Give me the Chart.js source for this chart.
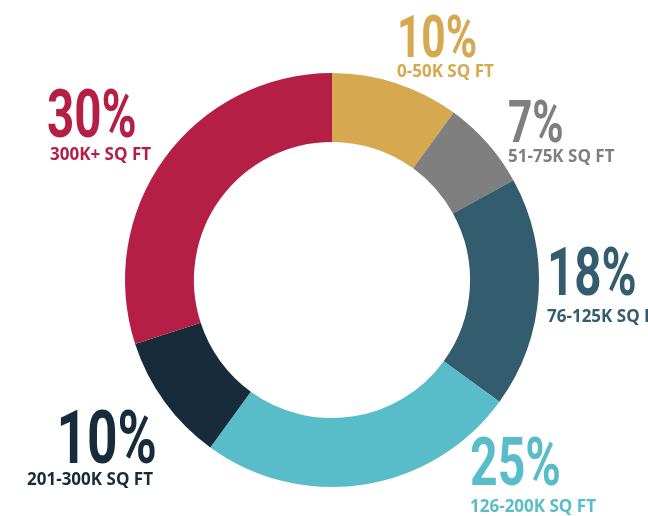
<!DOCTYPE html>
<html>
<head>
<meta charset="utf-8">
<script src="https://cdn.jsdelivr.net/npm/chart.js@4.4.1/dist/chart.umd.min.js"></script>
<style>
  html, body { margin: 0; padding: 0; background: #fff; }
  #wrap { width: 648px; height: 516px; }
</style>
</head>
<body>
<div id="wrap"><canvas id="donut"></canvas></div>
<script>
const categories = ['0-50K SQ FT', '51-75K SQ FT', '76-125K SQ FT', '126-200K SQ FT', '201-300K SQ FT', '300K+ SQ FT'];
const shares = [10, 7, 18, 25, 10, 30];
const colors = ['#D6A84F', '#7F7F7F', '#335C6F', '#58BDC9', '#172B3B', '#B51E45'];

// label placement relative to the doughnut centre (percent baseline)
const labelLayout = [
    { dx: 65, dy: -223, size: 59, align: 'left', subDx: 0, subGap: 20 },
    { dx: 176, dy: -138, size: 59, align: 'left', subDx: 0, subGap: 20 },
    { dx: 215, dy: 15, size: 66, align: 'left', subDx: 0, subGap: 27 },
    { dx: 138, dy: 205, size: 67, align: 'left', subDx: 0, subGap: 27 },
    { dx: -175, dy: 183, size: 74, align: 'right', subDx: -4, subGap: 22 },
    { dx: -285, dy: -143, size: 66, align: 'left', subDx: 3, subGap: 23 }
];

const labelPlugin = {
    id: 'sliceLabels',
    afterDatasetsDraw(chart) {
        const ctx = chart.ctx;
        const meta = chart.getDatasetMeta(0);
        meta.data.forEach((arc, i) => {
            const { x, y } = arc.getProps(['x', 'y'], true);
            const lay = labelLayout[i];
            const px = x + lay.dx;
            const py = y + lay.dy;
            ctx.save();
            ctx.fillStyle = colors[i];
            ctx.textBaseline = 'alphabetic';
            ctx.textAlign = lay.align;
            // condensed percentage
            ctx.save();
            ctx.translate(px, py);
            ctx.scale(0.72, 1);
            ctx.font = 'bold ' + lay.size + 'px Roboto';
            ctx.fillText(shares[i] + '%', 0, 0);
            ctx.restore();
            // size band
            ctx.font = 'bold 17px "Open Sans"';
            ctx.fillText(categories[i], px + lay.subDx, py + lay.subGap);
            ctx.restore();
        });
    }
};

new Chart(document.getElementById('donut'), {
    type: 'doughnut',
    data: {
        labels: categories,
        datasets: [{
            data: shares,
            backgroundColor: colors,
            borderWidth: 0
        }]
    },
    options: {
        responsive: true,
        maintainAspectRatio: false,
        animation: false,
        cutout: '66.7%',
        layout: {
            padding: { top: 73, bottom: 29, left: 125, right: 109 }
        },
        plugins: {
            legend: { display: false },
            tooltip: { enabled: false }
        }
    },
    plugins: [labelPlugin]
});
</script>
</body>
</html>
